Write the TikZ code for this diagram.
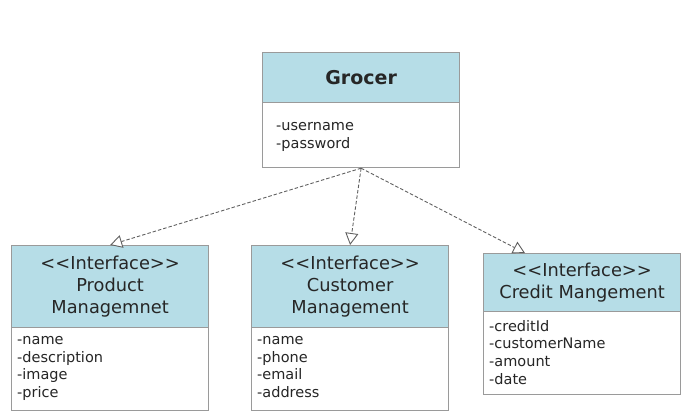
\documentclass[tikz,border=0pt]{standalone}
\usepackage{fontspec}
\setmainfont{DejaVu Sans}
\usetikzlibrary{arrows.meta,calc}
\definecolor{hdr}{HTML}{B6DDE7}
\definecolor{edge}{HTML}{9A9A9A}
\definecolor{conn}{HTML}{606060}
\begin{document}
\begin{tikzpicture}[x=1pt,y=-1pt,
  hbox/.style={draw=edge,line width=1.2pt,fill=hdr,anchor=north west,minimum width=197pt,inner sep=0pt,align=center,text=black!85,font=\fontsize{17.8}{22}\selectfont},
  bbox/.style={draw=edge,line width=1.2pt,fill=white,anchor=north west,minimum width=197pt,inner sep=0pt},
  attr/.style={anchor=north west,inner sep=0pt,align=left,text=black!85,font=\fontsize{14.5}{17.7}\selectfont},
  impl/.style={draw=conn,line width=0.9pt,dash pattern=on 3.5pt off 2pt,-{Triangle[open,length=12pt,width=13pt,fill=white]}}]
\useasboundingbox (0,0) rectangle (687,413);
% Grocer
\node[hbox,minimum height=50pt,font=\bfseries\fontsize{19}{22}\selectfont] (gh) at (262,52) {Grocer};
\node[bbox,minimum height=65pt] (gb) at (262,102) {};
\node[attr] (ga) at (276,122) {-username\\-password};
% Product
\node[hbox,minimum height=82pt] (ph) at (11,245) {<{}<Interface>{}>\\Product\\Managemnet};
\node[bbox,minimum height=83pt] (pb) at (11,327) {};
\node[attr] (pa) at (17,336) {-name\\-description\\-image\\-price};
% Customer
\node[hbox,minimum height=82pt] (ch) at (251,245) {<{}<Interface>{}>\\Customer\\Management};
\node[bbox,minimum height=83pt] (cb) at (251,327) {};
\node[attr] (ca) at (257,336) {-name\\-phone\\-email\\-address};
% Credit
\node[hbox,minimum height=58pt] (rh) at (483,253) {<{}<Interface>{}>\\Credit Mangement};
\node[bbox,minimum height=83pt] (rb) at (483,311) {};
\node[attr] (ra) at (489,320) {-creditId\\-customerName\\-amount\\-date};
\coordinate (rt) at ($(rh.north west)+(42,0)$);
% connectors
\draw[impl] (gb.south) -- (ph.north);
\draw[impl] (gb.south) -- (ch.north);
\draw[impl] (gb.south) -- (rt);
\end{tikzpicture}
\end{document}
